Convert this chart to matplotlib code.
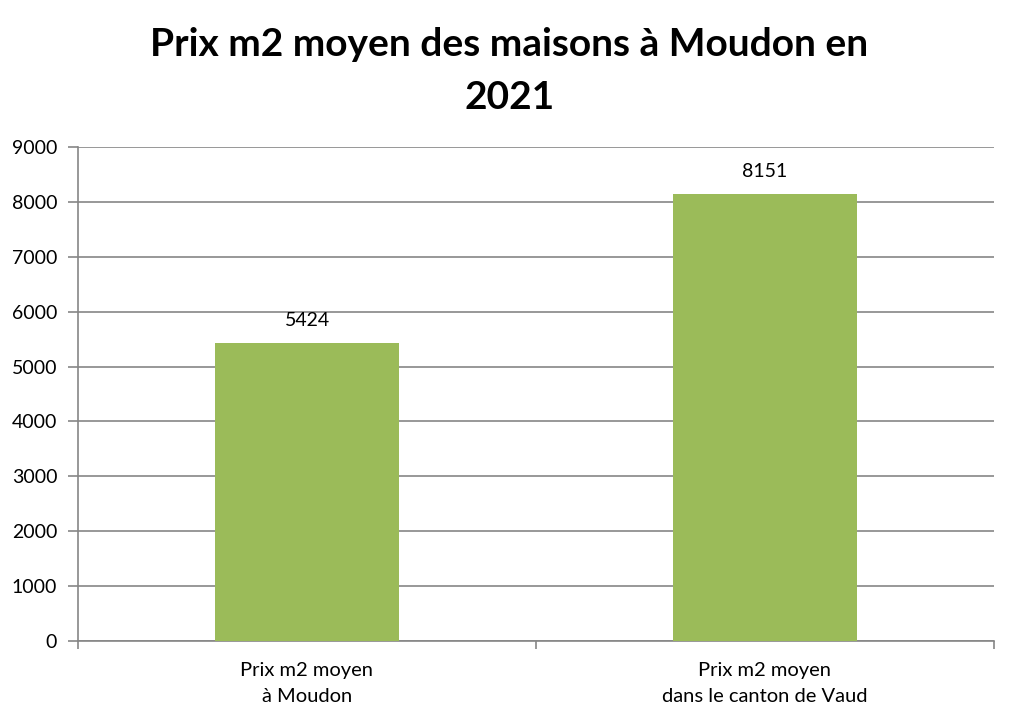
import matplotlib
matplotlib.use("Agg")
import matplotlib.pyplot as plt
from matplotlib.ticker import FixedLocator

categories = ["Prix m2 moyen\nà Moudon", "Prix m2 moyen\ndans le canton de Vaud"]
values = [5424, 8151]
yticks = [0, 1000, 2000, 3000, 4000, 5000, 6000, 7000, 8000, 9000]
title = "Prix m2 moyen des maisons à Moudon en\n2021"

plt.rcParams['font.family'] = ['Lato', 'DejaVu Sans']

fig = plt.figure(figsize=(10.19, 7.26), dpi=100)
ax = fig.add_axes([78/1019, 1-641/726, (994-78)/1019, (641-147)/726])

grid_c = "#868686"
x = list(range(len(categories)))
ax.bar(x, values, width=0.4, color="#9BBB59", zorder=3)
for xi, v in zip(x, values):
    ax.annotate(str(v), (xi, v), xytext=(0, 10), textcoords="offset points",
                ha="center", va="bottom", fontsize=14, color="#000000")

ax.set_xlim(-0.5, len(categories) - 0.5)
ax.set_ylim(0, 9000)
ax.set_yticks(yticks)
ax.set_yticklabels([str(t) for t in yticks], fontsize=14)
ax.yaxis.grid(True, color=grid_c, linewidth=1.2, zorder=0)
ax.set_axisbelow(True)

ax.set_xticks(x)
ax.set_xticklabels(categories, fontsize=14.5, linespacing=1.65)
ax.tick_params(axis='x', which='major', length=0, pad=15)
ax.xaxis.set_minor_locator(FixedLocator([-0.5, 0.5, 1.5]))
ax.tick_params(axis='x', which='minor', length=6, width=1.2, color=grid_c, direction='out')
ax.tick_params(axis='y', length=7, width=1.2, color=grid_c, direction='out', pad=8)

for s in ['top', 'right']:
    ax.spines[s].set_visible(False)
for s in ['left', 'bottom']:
    ax.spines[s].set_color(grid_c)
    ax.spines[s].set_linewidth(1.2)

fig.text(0.5, 1-71/726, title, ha="center", va="center", fontsize=28,
         fontweight="bold", linespacing=1.6)

fig.savefig("out.png", dpi=100, facecolor="white")
